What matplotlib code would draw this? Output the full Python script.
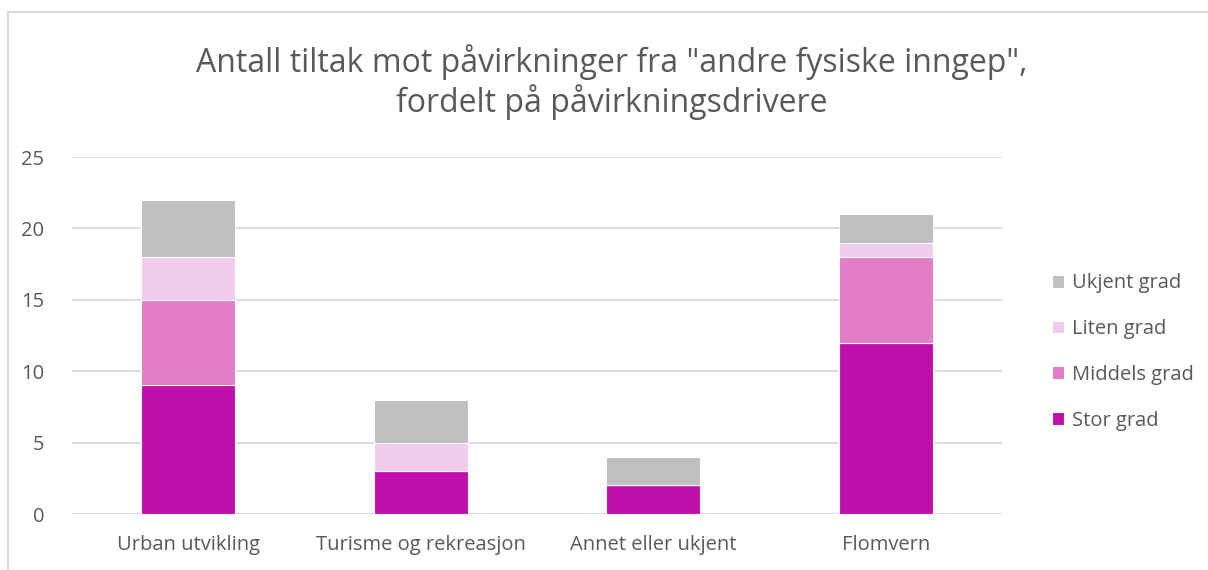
import matplotlib.pyplot as plt
from matplotlib.patches import Rectangle
import numpy as np

plt.rcParams['font.family'] = ['Open Sans', 'DejaVu Sans']

categories = ["Urban utvikling", "Turisme og rekreasjon", "Annet eller ukjent", "Flomvern"]
stor = [9, 3, 2, 12]
middels = [6, 0, 0, 6]
liten = [3, 2, 0, 1]
ukjent = [4, 3, 2, 2]

series = [("Stor grad", stor, "#C00FAB"),
          ("Middels grad", middels, "#E27DC8"),
          ("Liten grad", liten, "#F2CCEC"),
          ("Ukjent grad", ukjent, "#BFBFBF")]

txt = "#595959"
fig = plt.figure(figsize=(12.08, 5.70), dpi=100)
ax = fig.add_axes([72/1208, 1-514/570, 930/1208, 357/570])

x = np.arange(len(categories))
bottom = np.zeros(len(categories))
handles = []
for name, vals, col in series:
    b = ax.bar(x, vals, 0.405, bottom=bottom, color=col, edgecolor="white",
               linewidth=0.8, label=name, zorder=3)
    handles.append(b)
    bottom += np.array(vals)

ax.set_xlim(-0.5, len(categories) - 0.5)
ax.set_ylim(0, 25)
ax.set_yticks(range(0, 26, 5))
ax.yaxis.grid(True, color="#D9D9D9", linewidth=1.3, zorder=0)
for s in ax.spines.values():
    s.set_visible(False)
ax.tick_params(length=0, colors=txt, labelsize=14.5)
ax.tick_params(axis="y", pad=20)
ax.tick_params(axis="x", pad=15)
ax.set_xticks(x)
ax.set_xticklabels(categories)

fig.text(612/1208, 1-82/570, 'Antall tiltak mot påvirkninger fra "andre fysiske inngep",\nfordelt på påvirkningsdrivere',
         ha="center", va="center", fontsize=23, color=txt, linespacing=1.12)

leg = fig.legend(handles[::-1], [s[0] for s in series][::-1], loc="center left",
                 bbox_to_anchor=(1034/1208, 1-352/570), frameon=False, fontsize=14.5,
                 handlelength=0.6, handleheight=0.6, handletextpad=0.4, labelspacing=1.28)
for t in leg.get_texts():
    t.set_color(txt)

fig.patches.append(Rectangle((8/1208, -0.1), 1.2, 1 - 12/570 + 0.1, transform=fig.transFigure,
                             fill=False, edgecolor="#D9D9D9", linewidth=1.5))

fig.savefig("out.png", dpi=100)
